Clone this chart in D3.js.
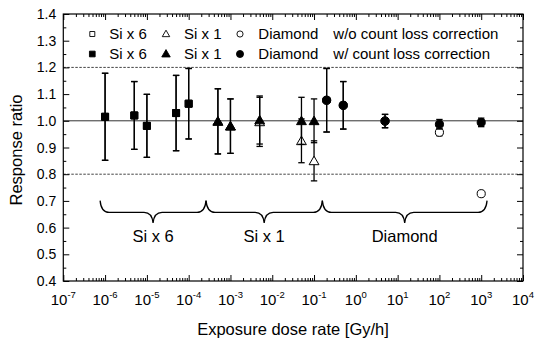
<!DOCTYPE html>
<html>
<head>
<meta charset="utf-8">
<script src="https://cdn.jsdelivr.net/npm/d3@7/dist/d3.min.js"></script>
<style>
  body { margin: 0; background: #fff; }
  svg { font-family: "Liberation Sans", Arial, sans-serif; }
</style>
</head>
<body>
<div id="chart"></div>
<script>
// Si x 6 (squares)
var siX6Rate = [1e-6, 5e-6, 1e-5, 5e-5, 1e-4];
var siX6Ratio = [1.015, 1.020, 0.981, 1.029, 1.064];
var siX6Err = [0.163, 0.127, 0.118, 0.141, 0.132];
var siX6OpenRatio = [1.015, 1.020, 0.981, 1.029, 1.064];
var siX6OpenErr = [0.163, 0.127, 0.118, 0.141, 0.132];

// Si x 1 (triangles)
var siX1Rate = [5e-4, 1e-3, 5e-3, 5e-2, 1e-1];
var siX1Ratio = [0.998, 0.980, 1.003, 1.000, 1.000];
var siX1Err = [0.122, 0.102, 0.090, 0.088, 0.082];
var siX1OpenRatio = [0.998, 0.980, 0.996, 0.925, 0.850];
var siX1OpenErr = [0.122, 0.102, 0.092, 0.082, 0.075];

// Diamond (circles)
var diaRate = [0.2, 0.5, 5, 100, 1000];
var diaRatio = [1.077, 1.058, 0.999, 0.987, 0.994];
var diaErr = [0.119, 0.089, 0.025, 0.018, 0.016];
var diaOpenRatio = [1.077, 1.058, 0.999, 0.957, 0.727];
var diaOpenErr = [0.119, 0.089, 0.025, 0.013, 0];

var xDecades = [-7, -6, -5, -4, -3, -2, -1, 0, 1, 2, 3, 4];
var yTicks = [0.4, 0.5, 0.6, 0.7, 0.8, 0.9, 1.0, 1.1, 1.2, 1.3, 1.4];
var refLines = [0.8, 1.0, 1.2];

// braces: [from, to, label]
var braces = [
  [7.6e-7, 2.6e-4, 'Si x 6'],
  [2.6e-4, 0.158, 'Si x 1'],
  [0.158, 1380, 'Diamond']
];
var legendRows = [
  ['Si x 6', 'Si x 1', 'Diamond', 'w/o count loss correction'],
  ['Si x 6', 'Si x 1', 'Diamond', 'w/ count loss correction']
];

var W = 535, H = 342;
var margin = { left: 63.3, right: 523, top: 14, bottom: 281 };

var svg = d3.select('#chart').append('svg').attr('width', W).attr('height', H);

var x = d3.scaleLog().domain([1e-7, 1e4]).range([margin.left, margin.right]);
var y = d3.scaleLinear().domain([0.4, 1.4]).range([margin.bottom, margin.top]);

var majors = xDecades.map(function (d) { return Math.pow(10, d); });
var minors = [];
xDecades.slice(0, -1).forEach(function (d) {
  for (var k = 2; k < 10; k++) minors.push(k * Math.pow(10, d));
});
var yMinor = d3.range(0.45, 1.4, 0.1);

// reference lines
svg.append('g').selectAll('line').data(refLines).enter().append('line')
  .attr('x1', margin.left).attr('x2', margin.right)
  .attr('y1', function (d) { return y(d); }).attr('y2', function (d) { return y(d); })
  .attr('stroke', function (d) { return d === 1.0 ? '#333' : '#444'; })
  .attr('stroke-width', 1)
  .attr('stroke-dasharray', function (d) { return d === 1.0 ? null : '2.5,1.5'; });

// axes (ticks inward)
function styleAxis(g) {
  g.select('.domain').remove();
  g.selectAll('line').attr('stroke', '#000');
  g.selectAll('text').remove();
}
svg.append('g').attr('transform', 'translate(0,' + margin.bottom + ')')
  .call(d3.axisBottom(x).tickValues(majors).tickSize(-6)).call(styleAxis);
svg.append('g').attr('transform', 'translate(0,' + margin.bottom + ')')
  .call(d3.axisBottom(x).tickValues(minors).tickSize(-3)).call(styleAxis);
svg.append('g').attr('transform', 'translate(0,' + margin.top + ')')
  .call(d3.axisTop(x).tickValues(majors).tickSize(-6)).call(styleAxis);
svg.append('g').attr('transform', 'translate(0,' + margin.top + ')')
  .call(d3.axisTop(x).tickValues(minors).tickSize(-3)).call(styleAxis);
svg.append('g').attr('transform', 'translate(' + margin.left + ',0)')
  .call(d3.axisLeft(y).tickValues(yTicks).tickSize(-6)).call(styleAxis);
svg.append('g').attr('transform', 'translate(' + margin.left + ',0)')
  .call(d3.axisLeft(y).tickValues(yMinor).tickSize(-3)).call(styleAxis);
svg.append('g').attr('transform', 'translate(' + margin.right + ',0)')
  .call(d3.axisRight(y).tickValues(yTicks).tickSize(-6)).call(styleAxis);
svg.append('g').attr('transform', 'translate(' + margin.right + ',0)')
  .call(d3.axisRight(y).tickValues(yMinor).tickSize(-3)).call(styleAxis);

svg.append('rect').attr('x', margin.left).attr('y', margin.top)
  .attr('width', margin.right - margin.left).attr('height', margin.bottom - margin.top)
  .attr('fill', 'none').attr('stroke', '#000').attr('stroke-width', 1.2);

// tick labels
svg.append('g').selectAll('text').data(yTicks).enter().append('text')
  .attr('x', margin.left - 7).attr('y', function (d) { return y(d) + 5; })
  .attr('text-anchor', 'end').attr('font-size', 14)
  .text(function (d) { return d.toFixed(1); });

var xl = svg.append('g').selectAll('text').data(xDecades).enter().append('text')
  .attr('x', function (d) { return x(Math.pow(10, d)); }).attr('y', 305)
  .attr('text-anchor', 'middle').attr('font-size', 15);
xl.append('tspan').text('10');
xl.append('tspan').attr('dy', -7).attr('font-size', 9.5).text(function (d) { return d; });

svg.append('text').attr('x', 293).attr('y', 335).attr('text-anchor', 'middle')
  .attr('font-size', 16.5).text('Exposure dose rate [Gy/h]');
svg.append('text').attr('transform', 'translate(22,150) rotate(-90)')
  .attr('text-anchor', 'middle').attr('font-size', 16.5).text('Response ratio');

// braces
function bracePath(a, b) {
  var x0 = x(a), x1 = x(b), xm = (x0 + x1) / 2;
  var yT = y(0.701), yM = y(0.657), yP = y(0.617);
  return 'M' + x0 + ',' + yT +
    'Q' + (x0 + 1) + ',' + yM + ' ' + (x0 + 9) + ',' + yM +
    'L' + (xm - 9) + ',' + yM +
    'Q' + (xm - 1) + ',' + yM + ' ' + xm + ',' + yP +
    'Q' + (xm + 1) + ',' + yM + ' ' + (xm + 9) + ',' + yM +
    'L' + (x1 - 9) + ',' + yM +
    'Q' + (x1 - 1) + ',' + yM + ' ' + x1 + ',' + yT;
}
var bg = svg.append('g').selectAll('g').data(braces).enter().append('g');
bg.append('path').attr('d', function (d) { return bracePath(d[0], d[1]); })
  .attr('fill', 'none').attr('stroke', '#000').attr('stroke-width', 1.3);
bg.append('text')
  .attr('x', function (d) { return (x(d[0]) + x(d[1])) / 2; })
  .attr('y', y(0.545)).attr('text-anchor', 'middle').attr('font-size', 16.5)
  .text(function (d) { return d[2]; });

// markers
var sym = { sq: d3.symbolSquare, tri: d3.symbolTriangle, cir: d3.symbolCircle };
var size = { sq: 49, tri: 42, cir: 52 };

function series(rate, ratio, err, shape, filled) {
  var data = rate.map(function (r, i) { return { x: r, y: ratio[i], e: err[i] }; });
  var g = svg.append('g');
  var eb = g.selectAll('g.eb').data(data.filter(function (d) { return d.e > 0; }))
    .enter().append('g').attr('stroke', '#000').attr('stroke-width', 1.3);
  eb.append('line')
    .attr('x1', function (d) { return x(d.x); }).attr('x2', function (d) { return x(d.x); })
    .attr('y1', function (d) { return y(d.y + d.e); }).attr('y2', function (d) { return y(d.y - d.e); });
  [1, -1].forEach(function (s) {
    eb.append('line')
      .attr('x1', function (d) { return x(d.x) - 3.2; }).attr('x2', function (d) { return x(d.x) + 3.2; })
      .attr('y1', function (d) { return y(d.y + s * d.e); }).attr('y2', function (d) { return y(d.y + s * d.e); });
  });
  g.selectAll('path').data(data).enter().append('path')
    .attr('d', d3.symbol().type(sym[shape]).size(size[shape]))
    .attr('transform', function (d) {
      return 'translate(' + x(d.x) + ',' + (y(d.y) + (shape === 'tri' ? 1 : 0)) + ')';
    })
    .attr('fill', filled ? '#000' : '#fff').attr('stroke', '#000').attr('stroke-width', 1);
}

series(siX6Rate, siX6OpenRatio, siX6OpenErr, 'sq', false);
series(siX1Rate, siX1OpenRatio, siX1OpenErr, 'tri', false);
series(diaRate, diaOpenRatio, diaOpenErr, 'cir', false);
series(siX6Rate, siX6Ratio, siX6Err, 'sq', true);
series(siX1Rate, siX1Ratio, siX1Err, 'tri', true);
series(diaRate, diaRatio, diaErr, 'cir', true);

// legend
var legX = [92.3, 166, 240];
var legTextX = [109.3, 184, 258.3, 333.3];
var legShapes = ['sq', 'tri', 'cir'];
var legSize = { sq: 25, tri: 24, cir: 30 };
legendRows.forEach(function (row, ri) {
  var base = 39 + ri * 20;
  legShapes.forEach(function (s, i) {
    svg.append('path')
      .attr('d', d3.symbol().type(sym[s]).size(legSize[s] * (ri ? 1.3 : 1)))
      .attr('transform', 'translate(' + legX[i] + ',' + (base - 5 + (s === 'tri' ? 0.5 : 0)) + ')')
      .attr('fill', ri ? '#000' : '#fff').attr('stroke', '#000').attr('stroke-width', 0.9);
  });
  row.forEach(function (t, i) {
    svg.append('text').attr('x', legTextX[i]).attr('y', base).attr('font-size', 15).text(t);
  });
});
</script>
</body>
</html>
